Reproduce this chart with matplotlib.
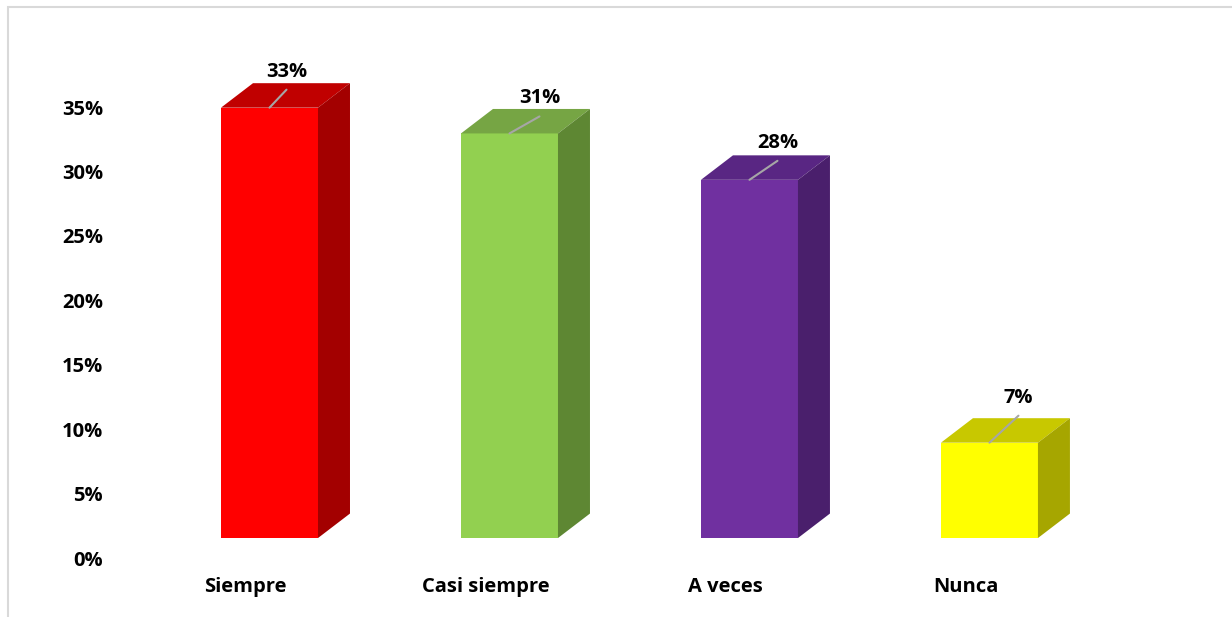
import matplotlib
matplotlib.use("Agg")
import matplotlib.pyplot as plt
from matplotlib.patches import Polygon, Rectangle

categories = ["Siempre", "Casi siempre", "A veces", "Nunca"]
values = [33.4, 31.4, 27.8, 7.4]
yticks = [0, 5, 10, 15, 20, 25, 30, 35]

front_colors = ["#FF0000", "#92D050", "#7030A0", "#FFFF00"]
top_colors = ["#C00000", "#76A544", "#592683", "#C8C800"]
side_colors = ["#A30000", "#5E8733", "#4A1F6C", "#A6A600"]
label_dx = [17, 30, 28, 29]   # label offsets in pixels
label_dy = [36, 35, 37, 45]

plt.rcParams["font.family"] = ["Open Sans", "DejaVu Sans"]

W, H = 1232, 617
fig = plt.figure(figsize=(W / 100, H / 100), dpi=100)

# outer chart frame
fig.patches.append(Rectangle((8 / W, -0.1), 1.2, 1 - 7 / H + 0.1, transform=fig.transFigure,
                             fill=False, edgecolor="#d9d9d9", lw=1.5))

ax = fig.add_axes([110 / W, 59 / H, 1070 / W, 515.4 / H])
ax.set_xlim(-0.6646, 3.794)
ax.set_ylim(0, 40)

floor = 1.55
w = 97 / 240
dx = 32 / 240
dy = 1.9

for i, v in enumerate(values):
    x0, x1 = i - w / 2, i + w / 2
    y0, y1 = floor, floor + v
    ax.add_patch(Rectangle((x0, y0), w, v, facecolor=front_colors[i], edgecolor="none"))
    ax.add_patch(Polygon([(x0, y1), (x1, y1), (x1 + dx, y1 + dy), (x0 + dx, y1 + dy)],
                         facecolor=top_colors[i], edgecolor="none"))
    ax.add_patch(Polygon([(x1, y0), (x1 + dx, y0 + dy), (x1 + dx, y1 + dy), (x1, y1)],
                         facecolor=side_colors[i], edgecolor="none"))
    # leader line, then the label
    ax.annotate("", xy=(i, y1), xytext=(label_dx[i], label_dy[i] - 18),
                textcoords="offset pixels",
                arrowprops=dict(arrowstyle="-", color="#a6a6a6", lw=1.5,
                                shrinkA=0, shrinkB=0))
    ax.annotate(f"{v:.0f}%", xy=(i, y1), xytext=(label_dx[i], label_dy[i]),
                textcoords="offset pixels", ha="center", va="center",
                fontsize=14.5, fontweight="bold")

ax.set_yticks(yticks)
ax.set_yticklabels([f"{t}%" for t in yticks], fontsize=14.5, fontweight="bold")
ax.set_xticks([i - 0.1 for i in range(len(categories))])
ax.set_xticklabels(categories, fontsize=14.5, fontweight="bold")
ax.tick_params(axis="y", length=0, pad=5)
ax.tick_params(axis="x", length=0, pad=14)
for s in ax.spines.values():
    s.set_visible(False)

fig.savefig("out.png", dpi=100)
